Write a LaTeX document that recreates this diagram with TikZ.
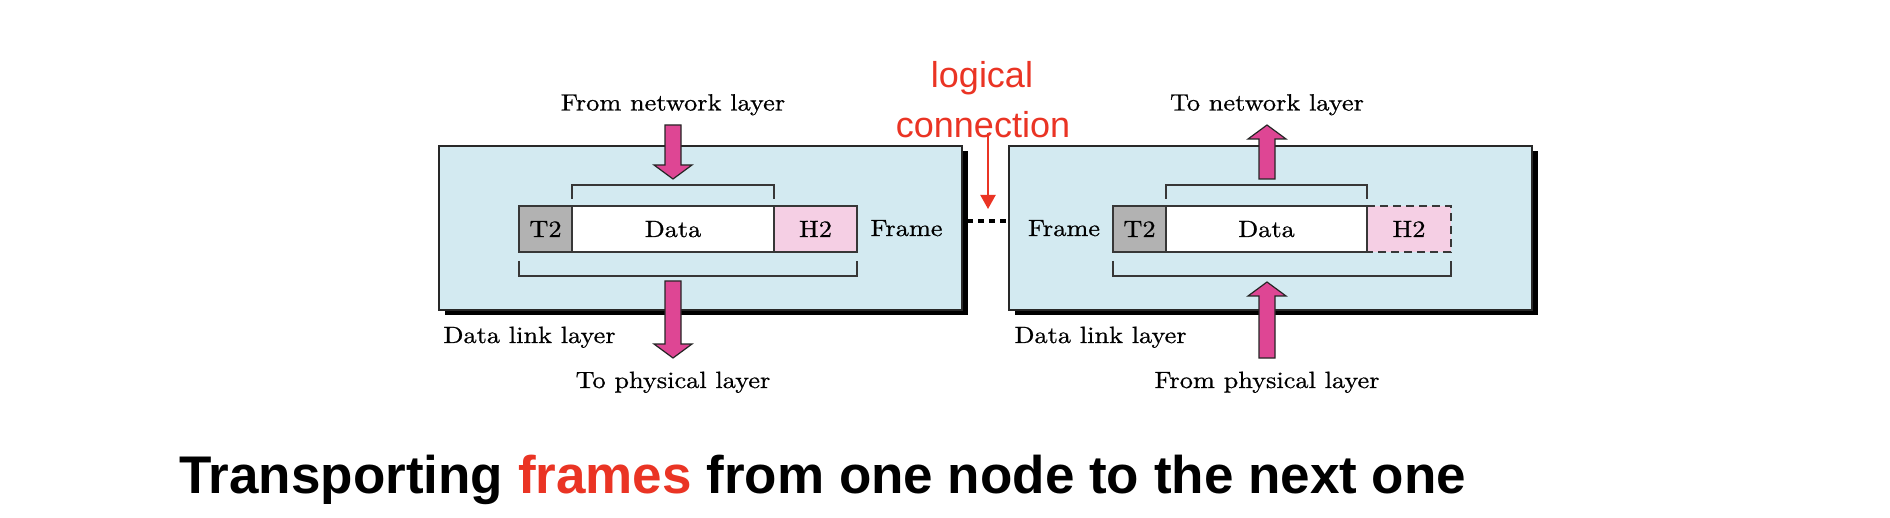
\documentclass[tikz,border=0pt]{standalone}
\usepackage{fontspec}
\newfontfamily\titlefont{Liberation Sans}
\newfontfamily\dlf{lmroman10-regular.otf}[FakeStretch=1.12,FakeBold=0.7]
\usetikzlibrary{arrows.meta,positioning,calc,shadows}
\definecolor{boxblue}{RGB}{211,234,241}
\definecolor{boxline}{RGB}{40,40,40}
\definecolor{fieldline}{RGB}{55,55,55}
\definecolor{t2gray}{RGB}{178,178,178}
\definecolor{h2pink}{RGB}{245,207,228}
\definecolor{arrowpink}{RGB}{222,70,148}
\definecolor{linkred}{RGB}{234,52,36}
\newcommand{\fatdown}[3]{\draw[fatarrow] (#1-8,#2) -- (#1+8,#2) -- (#1+8,#3-14) -- (#1+19,#3-14) -- (#1,#3) -- (#1-19,#3-14) -- (#1-8,#3-14) -- cycle;}
\newcommand{\fatup}[3]{\draw[fatarrow] (#1-8,#2) -- (#1+8,#2) -- (#1+8,#3+14) -- (#1+19,#3+14) -- (#1,#3) -- (#1-19,#3+14) -- (#1-8,#3+14) -- cycle;}
\begin{document}
\begin{tikzpicture}[x=0.5pt,y=-0.5pt,
  layerbox/.style={draw=boxline, line width=0.8pt, fill=boxblue, minimum width=261.5pt, minimum height=82pt, inner sep=0pt, outer sep=0pt,
    drop shadow={shadow xshift=2.75pt, shadow yshift=-2.6pt, fill=black, opacity=1}},
  field/.style={draw=fieldline, line width=0.8pt, minimum height=23pt, inner sep=0pt, outer sep=0pt, text height=8pt, text depth=0pt, font=\dlf\fontsize{11.75}{14}\selectfont},
  lbl/.style={font=\dlf\fontsize{11.75}{14}\selectfont, inner sep=0pt, anchor=base},
  bracket/.style={draw=fieldline, line width=0.8pt},
  fatarrow/.style={fill=arrowpink, draw=black!85, line width=0.6pt, line join=miter},
  redtext/.style={font=\titlefont\fontsize{18}{25}\selectfont, text=linkred, inner sep=0pt, anchor=base},
  redarrow/.style={draw=linkred, line width=1pt, -{Triangle[width=7.5pt,length=7pt]}},
  linkdots/.style={draw=black, line width=2pt, dash pattern=on 3pt off 2.5pt},
  h2dash/.style={draw=fieldline, line width=0.8pt, dash pattern=on 4pt off 2.5pt}
]
\fill[white] (0,0) rectangle (1890,518);
\useasboundingbox (0,0) rectangle (1890,518);

% ---- left node (sender) ----
\node[layerbox] (lbox) at (700.5,228) {};
\node[field, fill=t2gray, minimum width=26.5pt] (lt2) at (545.5,229) {T2};
\node[field, fill=white, minimum width=101pt, right=0pt of lt2] (ldata) {Data};
\node[field, fill=h2pink, minimum width=41.5pt, right=0pt of ldata] (lh2) {H2};
\draw[bracket] ($(ldata.north west)+(0,-7)$) -- ++(0,-14) -| ($(ldata.north east)+(0,-7)$);
\draw[bracket] ($(lt2.south west)+(0,9)$) -- ++(0,15) -| ($(lh2.south east)+(0,9)$);
\fatdown{673}{125}{179}
\fatdown{673}{281}{358}
\node[lbl] (lfromnet) at (673,110.5) {From network layer};
\node[lbl] (ltophys) at (673,388) {To physical layer};
\node[lbl, anchor=base west] (ldll) at (443,343) {Data link layer};
\node[lbl] (lframe) at (906.5,236) {Frame};

% ---- right node (receiver) ----
\node[layerbox] (rbox) at (1270.5,228) {};
\node[field, fill=t2gray, minimum width=26.5pt] (rt2) at (1139.5,229) {T2};
\node[field, fill=white, minimum width=100.5pt, right=0pt of rt2] (rdata) {Data};
\node[field, draw=none, fill=h2pink, minimum width=42pt, right=0pt of rdata] (rh2) {H2};
\draw[fieldline, line width=0.8pt] (rdata.north east) -- (rdata.south east);
\draw[h2dash] (rdata.north east) -- (rh2.north east) -- (rh2.south east) -- (rdata.south east);
\draw[bracket] ($(rdata.north west)+(0,-7)$) -- ++(0,-14) -| ($(rdata.north east)+(0,-7)$);
\draw[bracket] ($(rt2.south west)+(0,9)$) -- ++(0,15) -| ($(rh2.south east)+(0,9)$);
\fatup{1267}{179}{125}
\fatup{1267}{358}{282}
\node[lbl] (rtonet) at (1267,110.5) {To network layer};
\node[lbl] (rfromphys) at (1267,388) {From physical layer};
\node[lbl, anchor=base west] (rdll) at (1014,343) {Data link layer};
\node[lbl] (rframe) at (1064,236) {Frame};

% ---- logical connection ----
\draw[linkdots] ($(lbox.east)+(5,-7)$) -- ($(rbox.west)+(0,-7)$);
\node[redtext] (lc1) at (982,88) {logical};
\node[redtext] (lc2) at (983,138) {connection};
\coordinate (lcs) at (988,133);
\coordinate (lct) at (988,209);
\draw[redarrow] (lcs) -- (lct);

% ---- caption ----
\node[anchor=base west, inner sep=0pt, font=\titlefont\bfseries\fontsize{26.5}{30}\selectfont] (title) at (179,493)
  {Transporting \textcolor{linkred}{frames} from one node to the next one};
\end{tikzpicture}
\end{document}
